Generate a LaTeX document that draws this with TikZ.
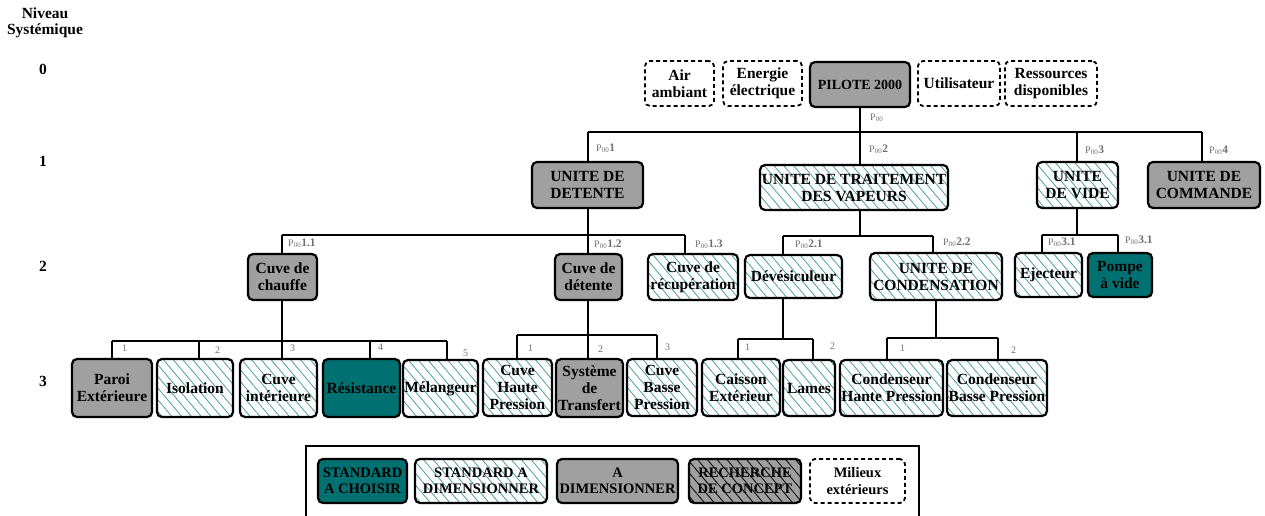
\documentclass[tikz,border=0pt]{standalone}
\usepackage{fontspec}
\setmainfont{Liberation Serif}
\usetikzlibrary{patterns.meta}
\definecolor{tealc}{HTML}{007070}
\definecolor{hatchc}{HTML}{4A9E9E}
\definecolor{grayc}{HTML}{A0A0A0}
\definecolor{labc}{HTML}{707070}
\tikzset{
  base/.style={draw=black, line width=2.2pt, rounded corners=5pt, inner sep=0.5pt, align=center, font=\bfseries\fontsize{15.5}{17}\selectfont},
  gbox/.style={base, fill=grayc},
  tbox/.style={base, fill=tealc},
  hbox/.style={base, pattern={Lines[angle=-50,distance=7.5pt,line width=0.8pt]}, pattern color=hatchc},
  rbox/.style={base, preaction={fill=grayc}, pattern={Lines[angle=-50,distance=7.5pt,line width=0.8pt]}, pattern color=black},
  dbox/.style={base, draw=black, line width=1.8pt, dash pattern=on 4pt off 3pt},
  legf/.style={font=\bfseries\fontsize{14.5}{16.5}\selectfont},
  conn/.style={draw=black, line width=1.8pt},
  lab/.style={anchor=west, text=labc, inner sep=0pt, font=\fontsize{10}{10}\selectfont},
  lvl/.style={inner sep=0pt, font=\bfseries\fontsize{15.5}{17}\selectfont},
}
\newcommand\bx[7]{\node[#1, minimum width={#4-#3}, minimum height={#6-#5}] (#2) at ({(#3+#4)/2},{(#5+#6)/2}) {#7};}
\newcommand\pl[1]{P\textsubscript{00}{\fontsize{11.5}{11.5}\selectfont\bfseries #1}}
\begin{document}
\begin{tikzpicture}[x=1pt,y=-1pt]
\useasboundingbox (0,0) rectangle (1265,515);
% level labels
\node[lvl] (nv) at (45,13) {Niveau};
\node[lvl] (sy) at (45,31) {Systémique};
\node[lvl] (l0) at (43,69) {0};
\node[lvl] (l1) at (43,161) {1};
\node[lvl] (l2) at (43,266) {2};
\node[lvl] (l3) at (43,381) {3};
% level 0
\bx{dbox}{air}{645}{714}{61}{106}{Air\\ambiant}
\bx{dbox}{ener}{723}{802}{61}{106}{Energie\\électrique}
\bx{gbox,font=\bfseries\fontsize{14}{16}\selectfont}{pil}{810}{910}{62}{107}{PILOTE 2000}
\bx{dbox}{util}{918}{1000}{61}{106}{Utilisateur}
\bx{dbox}{ress}{1005}{1097}{61}{106}{Ressources\\disponibles}
% level 1
\bx{gbox}{det}{532}{643}{162}{208}{UNITE DE\\DETENTE}
\bx{hbox}{trt}{760}{948}{165}{210}{UNITE DE TRAITEMENT\\DES VAPEURS}
\bx{hbox}{vid}{1037}{1118}{162}{208}{UNITE\\DE VIDE}
\bx{gbox}{cmd}{1148}{1260}{162}{208}{UNITE DE\\COMMANDE}
% level 2
\bx{gbox}{chauf}{248}{317}{254}{300}{Cuve de\\chauffe}
\bx{gbox}{cdet}{555}{622}{254}{300}{Cuve de\\détente}
\bx{hbox}{recup}{648}{738}{254}{300}{Cuve de\\récupération}
\bx{hbox}{dev}{745}{842}{255}{298}{Dévésiculeur}
\bx{hbox}{cond}{870}{1002}{253}{300}{UNITE DE\\CONDENSATION}
\bx{hbox}{ejec}{1015}{1082}{253}{297}{Ejecteur}
\bx{tbox}{pompe}{1088}{1152}{253}{297}{Pompe\\à vide}
% level 3
\bx{gbox}{paroi}{72}{152}{359}{417}{Paroi\\Extérieure}
\bx{hbox}{iso}{157}{233}{359}{417}{Isolation}
\bx{hbox}{cint}{240}{317}{359}{417}{Cuve\\intérieure}
\bx{tbox}{resi}{323}{400}{359}{417}{Résistance}
\bx{hbox}{mel}{403}{478}{360}{417}{Mélangeur}
\bx{hbox}{chp}{483}{552}{359}{416}{Cuve\\Haute\\Pression}
\bx{gbox}{sys}{556}{623}{359}{417}{Système\\de\\Transfert}
\bx{hbox}{cbp}{627}{697}{359}{416}{Cuve\\Basse\\Pression}
\bx{hbox}{cais}{702}{780}{359}{416}{Caisson\\Extérieur}
\bx{hbox}{lames}{783}{835}{360}{416}{Lames}
\bx{hbox}{conhp}{840}{943}{360}{416}{Condenseur\\Hante Pression}
\bx{hbox}{conbp}{947}{1047}{360}{416}{Condenseur\\Basse Pression}
% legend
\draw[line width=1.5pt] (306,530) -- (306,446) -- (919,446) -- (919,530);
\bx{tbox,legf}{lg1}{318}{407}{459}{503}{STANDARD\\A CHOISIR}
\bx{hbox,legf}{lg2}{415}{547}{459}{503}{STANDARD A\\DIMENSIONNER}
\bx{gbox,legf}{lg3}{557}{678}{459}{503}{A\\DIMENSIONNER}
\bx{rbox,legf}{lg4}{689}{801}{459}{503}{RECHERCHE\\DE CONCEPT}
\bx{dbox,legf}{lg5}{810}{905}{459}{503}{Milieux\\extérieurs}
% connectors level 0 -> 1
\coordinate (b0L) at (588,132);
\coordinate (b0R) at (1202,132);
\coordinate (b0V) at (1077,132);
\draw[conn] (pil.south) -- (pil.south |- trt.north);
\draw[conn] (b0L) -- (b0R);
\draw[conn] (b0L) -- (b0L |- det.north);
\draw[conn] (b0V) -- (b0V |- vid.north);
\draw[conn] (b0R) -- (b0R |- cmd.north);
% level 1 -> 2 : detente
\coordinate (d0) at (588,235);
\coordinate (d1) at (282,235);
\coordinate (d3) at (685,235);
\draw[conn] (det.south -| d0) -- (d0);
\draw[conn] (d1) -- (d3);
\draw[conn] (d1) -- (d1 |- chauf.north);
\draw[conn] (d0) -- (d0 |- cdet.north);
\draw[conn] (d3) -- (d3 |- recup.north);
% traitement
\coordinate (t0) at (860,236);
\coordinate (t1) at (783,236);
\coordinate (t2) at (933,236);
\draw[conn] (trt.south -| t0) -- (t0);
\draw[conn] (t1) -- (t2);
\draw[conn] (t1) -- (t1 |- dev.north);
\draw[conn] (t2) -- (t2 |- cond.north);
% vide
\coordinate (v0) at (1077,235);
\coordinate (v1) at (1042,235);
\coordinate (v2) at (1118,235);
\draw[conn] (vid.south -| v0) -- (v0);
\draw[conn] (v1) -- (v2);
\draw[conn] (v1) -- (v1 |- ejec.north);
\draw[conn] (v2) -- (v2 |- pompe.north);
% level 2 -> 3 : chauffe
\coordinate (c0) at (282,341);
\coordinate (c1) at (112,341);
\coordinate (c2) at (199,341);
\coordinate (c4) at (370,341);
\coordinate (c5) at (447,341);
\draw[conn] (chauf.south -| c0) -- (c0 |- cint.north);
\draw[conn] (c1) -- (c5);
\draw[conn] (c1) -- (c1 |- paroi.north);
\draw[conn] (c2) -- (c2 |- iso.north);
\draw[conn] (c4) -- (c4 |- resi.north);
\draw[conn] (c5) -- (c5 |- mel.north);
% cuve de detente
\coordinate (e0) at (588,335);
\coordinate (e1) at (517,335);
\coordinate (e3) at (657,335);
\draw[conn] (cdet.south -| e0) -- (e0 |- sys.north);
\draw[conn] (e1) -- (e3);
\draw[conn] (e1) -- (e1 |- chp.north);
\draw[conn] (e3) -- (e3 |- cbp.north);
% devesiculeur
\coordinate (f0) at (783,339);
\coordinate (f1) at (738,339);
\coordinate (f2) at (813,339);
\draw[conn] (dev.south -| f0) -- (f0);
\draw[conn] (f1) -- (f2);
\draw[conn] (f1) -- (f1 |- cais.north);
\draw[conn] (f2) -- (f2 |- lames.north);
% condensation
\coordinate (g0) at (936,338);
\coordinate (g1) at (887,338);
\coordinate (g2) at (998,338);
\draw[conn] (cond.south -| g0) -- (g0);
\draw[conn] (g1) -- (g2);
\draw[conn] (g1) -- (g1 |- conhp.north);
\draw[conn] (g2) -- (g2 |- conbp.north);
% labels
\node[lab] (p00) at (870,118) {P\textsubscript{00}};
\node[lab] (p1) at (596,148) {\pl{1}};
\node[lab] (p2) at (869,149) {\pl{2}};
\node[lab] (p3) at (1085,150) {\pl{3}};
\node[lab] (p4) at (1209,150) {\pl{4}};
\node[lab] (p11) at (288,243) {\pl{1.1}};
\node[lab] (p12) at (594,244) {\pl{1.2}};
\node[lab] (p13) at (695,244) {\pl{1.3}};
\node[lab] (p21) at (795,244) {\pl{2.1}};
\node[lab] (p22) at (943,242) {\pl{2.2}};
\node[lab] (p31) at (1048,242) {\pl{3.1}};
\node[lab] (p32) at (1125,240) {\pl{3.1}};
\node[lab] (n1) at (122,348) {1};
\node[lab] (n2) at (215,350) {2};
\node[lab] (n3) at (290,348) {3};
\node[lab] (n4) at (378,347) {4};
\node[lab] (n5) at (463,353) {5};
\node[lab] (n6) at (528,348) {1};
\node[lab] (n7) at (598,349) {2};
\node[lab] (n8) at (665,347) {3};
\node[lab] (n9) at (745,347) {1};
\node[lab] (n10) at (830,346) {2};
\node[lab] (n11) at (900,348) {1};
\node[lab] (n12) at (1011,350) {2};
\end{tikzpicture}
\end{document}
